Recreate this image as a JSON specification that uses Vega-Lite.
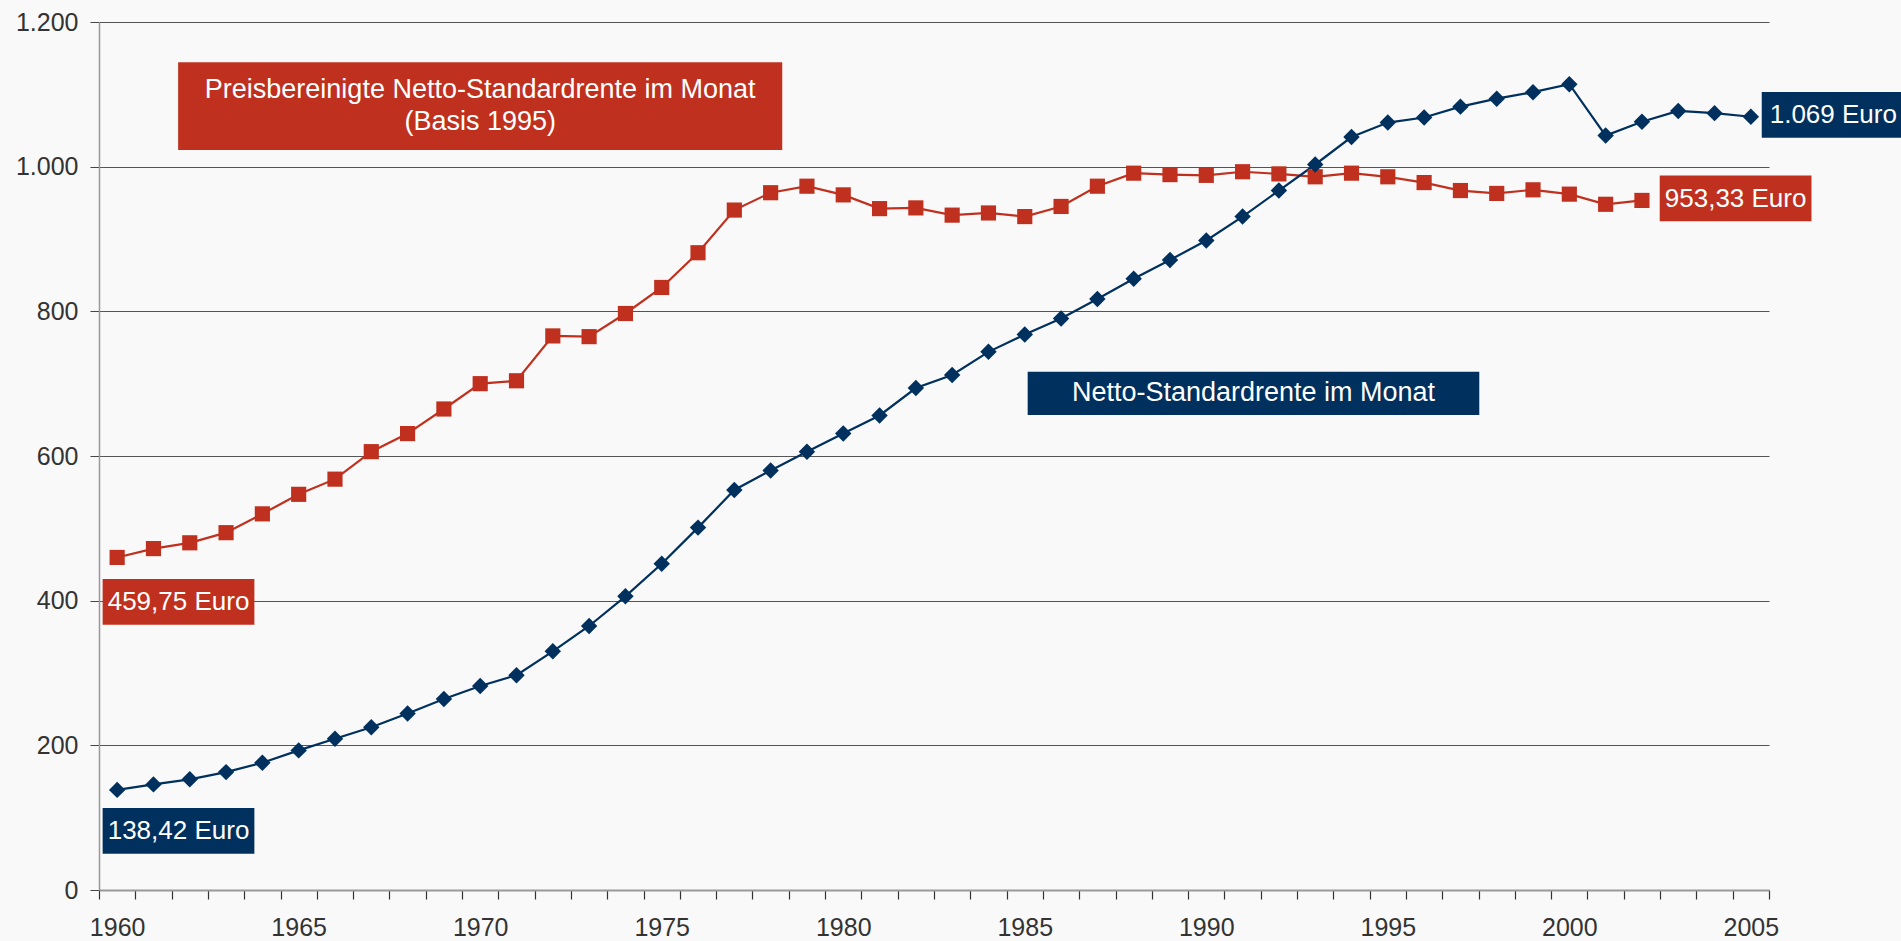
{
  "$schema": "https://vega.github.io/schema/vega-lite/v6.json",
  "width": 1670,
  "height": 868,
  "autosize": "none",
  "padding": {"left": 99, "top": 22, "right": 132, "bottom": 51},
  "background": "#f9f9f9",
  "config": {
    "view": {"stroke": null},
    "font": "Liberation Sans",
    "text": {"font": "Liberation Sans"}
  },
  "datasets": {
    "rente": [
      {"year": 1960, "series": "Preisbereinigt", "value": 459.75},
      {"year": 1961, "series": "Preisbereinigt", "value": 472},
      {"year": 1962, "series": "Preisbereinigt", "value": 480},
      {"year": 1963, "series": "Preisbereinigt", "value": 494},
      {"year": 1964, "series": "Preisbereinigt", "value": 520},
      {"year": 1965, "series": "Preisbereinigt", "value": 547},
      {"year": 1966, "series": "Preisbereinigt", "value": 568},
      {"year": 1967, "series": "Preisbereinigt", "value": 606},
      {"year": 1968, "series": "Preisbereinigt", "value": 631},
      {"year": 1969, "series": "Preisbereinigt", "value": 665},
      {"year": 1970, "series": "Preisbereinigt", "value": 700},
      {"year": 1971, "series": "Preisbereinigt", "value": 704},
      {"year": 1972, "series": "Preisbereinigt", "value": 766},
      {"year": 1973, "series": "Preisbereinigt", "value": 765},
      {"year": 1974, "series": "Preisbereinigt", "value": 797},
      {"year": 1975, "series": "Preisbereinigt", "value": 833},
      {"year": 1976, "series": "Preisbereinigt", "value": 881},
      {"year": 1977, "series": "Preisbereinigt", "value": 940},
      {"year": 1978, "series": "Preisbereinigt", "value": 964},
      {"year": 1979, "series": "Preisbereinigt", "value": 973},
      {"year": 1980, "series": "Preisbereinigt", "value": 961},
      {"year": 1981, "series": "Preisbereinigt", "value": 942},
      {"year": 1982, "series": "Preisbereinigt", "value": 943},
      {"year": 1983, "series": "Preisbereinigt", "value": 933},
      {"year": 1984, "series": "Preisbereinigt", "value": 936},
      {"year": 1985, "series": "Preisbereinigt", "value": 931},
      {"year": 1986, "series": "Preisbereinigt", "value": 945},
      {"year": 1987, "series": "Preisbereinigt", "value": 973},
      {"year": 1988, "series": "Preisbereinigt", "value": 991},
      {"year": 1989, "series": "Preisbereinigt", "value": 989},
      {"year": 1990, "series": "Preisbereinigt", "value": 988},
      {"year": 1991, "series": "Preisbereinigt", "value": 993},
      {"year": 1992, "series": "Preisbereinigt", "value": 990},
      {"year": 1993, "series": "Preisbereinigt", "value": 986},
      {"year": 1994, "series": "Preisbereinigt", "value": 991},
      {"year": 1995, "series": "Preisbereinigt", "value": 986},
      {"year": 1996, "series": "Preisbereinigt", "value": 978},
      {"year": 1997, "series": "Preisbereinigt", "value": 967},
      {"year": 1998, "series": "Preisbereinigt", "value": 963},
      {"year": 1999, "series": "Preisbereinigt", "value": 968},
      {"year": 2000, "series": "Preisbereinigt", "value": 962},
      {"year": 2001, "series": "Preisbereinigt", "value": 948},
      {"year": 2002, "series": "Preisbereinigt", "value": 953.33},
      {"year": 1960, "series": "Netto", "value": 138.42},
      {"year": 1961, "series": "Netto", "value": 146},
      {"year": 1962, "series": "Netto", "value": 153},
      {"year": 1963, "series": "Netto", "value": 163},
      {"year": 1964, "series": "Netto", "value": 176},
      {"year": 1965, "series": "Netto", "value": 193},
      {"year": 1966, "series": "Netto", "value": 209},
      {"year": 1967, "series": "Netto", "value": 225},
      {"year": 1968, "series": "Netto", "value": 244},
      {"year": 1969, "series": "Netto", "value": 264},
      {"year": 1970, "series": "Netto", "value": 282},
      {"year": 1971, "series": "Netto", "value": 297},
      {"year": 1972, "series": "Netto", "value": 330},
      {"year": 1973, "series": "Netto", "value": 365},
      {"year": 1974, "series": "Netto", "value": 406},
      {"year": 1975, "series": "Netto", "value": 451},
      {"year": 1976, "series": "Netto", "value": 501},
      {"year": 1977, "series": "Netto", "value": 553},
      {"year": 1978, "series": "Netto", "value": 580},
      {"year": 1979, "series": "Netto", "value": 606},
      {"year": 1980, "series": "Netto", "value": 631},
      {"year": 1981, "series": "Netto", "value": 656},
      {"year": 1982, "series": "Netto", "value": 694},
      {"year": 1983, "series": "Netto", "value": 712},
      {"year": 1984, "series": "Netto", "value": 744},
      {"year": 1985, "series": "Netto", "value": 768},
      {"year": 1986, "series": "Netto", "value": 790},
      {"year": 1987, "series": "Netto", "value": 817},
      {"year": 1988, "series": "Netto", "value": 845},
      {"year": 1989, "series": "Netto", "value": 871},
      {"year": 1990, "series": "Netto", "value": 898},
      {"year": 1991, "series": "Netto", "value": 931},
      {"year": 1992, "series": "Netto", "value": 967},
      {"year": 1993, "series": "Netto", "value": 1003},
      {"year": 1994, "series": "Netto", "value": 1041},
      {"year": 1995, "series": "Netto", "value": 1061},
      {"year": 1996, "series": "Netto", "value": 1068},
      {"year": 1997, "series": "Netto", "value": 1083},
      {"year": 1998, "series": "Netto", "value": 1094},
      {"year": 1999, "series": "Netto", "value": 1103},
      {"year": 2000, "series": "Netto", "value": 1114},
      {"year": 2001, "series": "Netto", "value": 1043},
      {"year": 2002, "series": "Netto", "value": 1062},
      {"year": 2003, "series": "Netto", "value": 1077},
      {"year": 2004, "series": "Netto", "value": 1074},
      {"year": 2005, "series": "Netto", "value": 1069}
    ]
  },
  "layer": [
    {
      "data": {"name": "rente"},
      "mark": {"type": "line", "strokeWidth": 2.2},
      "encoding": {
        "x": {
          "field": "year", "type": "quantitative",
          "scale": {"domain": [1959.5, 2005.5], "nice": false, "zero": false},
          "axis": {
            "title": null,
            "grid": false,
            "tickCount": 200,
            "values": [1959.5,1960.5,1961.5,1962.5,1963.5,1964.5,1965.5,1966.5,1967.5,1968.5,1969.5,1970.5,1971.5,1972.5,1973.5,1974.5,1975.5,1976.5,1977.5,1978.5,1979.5,1980.5,1981.5,1982.5,1983.5,1984.5,1985.5,1986.5,1987.5,1988.5,1989.5,1990.5,1991.5,1992.5,1993.5,1994.5,1995.5,1996.5,1997.5,1998.5,1999.5,2000.5,2001.5,2002.5,2003.5,2004.5,2005.5],
            "labelExpr": "((datum.value + 0.5) % 5 === 0 && datum.value < 2005) ? ('' + (datum.value + 0.5)) : ''",
            "labelOverlap": false,
            "labelFlush": false,
            "labelOffset": 18.15,
            "labelAlign": "center",
            "labelFontSize": 25,
            "labelColor": "#333333",
            "labelPadding": 16,
            "tickSize": 9,
            "tickColor": "#333333",
            "tickWidth": 1.2,
            "domainColor": "#999999",
            "domainWidth": 2
          }
        },
        "y": {
          "field": "value", "type": "quantitative",
          "scale": {"domain": [0, 1200], "nice": false},
          "axis": {
            "title": null,
            "values": [0, 200, 400, 600, 800, 1000, 1200],
            "labelExpr": "replace(format(datum.value, ','), ',', '.')",
            "grid": true,
            "gridColor": "#555555",
            "gridWidth": 1.2,
            "labelFontSize": 25,
            "labelColor": "#333333",
            "labelPadding": 12,
            "tickSize": 9,
            "tickColor": "#444444",
            "domainColor": "#999999",
            "domainWidth": 1.5
          }
        },
        "color": {
          "field": "series", "type": "nominal",
          "scale": {"domain": ["Preisbereinigt", "Netto"], "range": ["#C0301E", "#00305E"]},
          "legend": null
        },
        "detail": {"field": "series"}
      }
    },
    {
      "data": {"name": "rente"},
      "mark": {"type": "point", "filled": true, "opacity": 1},
      "encoding": {
        "x": {"field": "year", "type": "quantitative"},
        "y": {"field": "value", "type": "quantitative"},
        "color": {"field": "series", "type": "nominal", "legend": null},
        "shape": {
          "field": "series", "type": "nominal",
          "scale": {"domain": ["Preisbereinigt", "Netto"], "range": ["square", "diamond"]},
          "legend": null
        },
        "size": {
          "field": "series", "type": "nominal",
          "scale": {"domain": ["Preisbereinigt", "Netto"], "range": [230, 270]},
          "legend": null
        }
      }
    },
    {
      "data": {"values": [{}]},
      "mark": {"type": "rect", "color": "#C0301E"},
      "encoding": {
        "x": {"datum": 1961.68, "type": "quantitative"},
        "x2": {"datum": 1978.32},
        "y": {"datum": 1144.3, "type": "quantitative"},
        "y2": {"datum": 1023.0}
      }
    },
    {
      "data": {"values": [{}]},
      "mark": {"type": "text", "color": "#ffffff", "fontSize": 27, "align": "center", "baseline": "middle", "lineHeight": 32,
               "text": ["Preisbereinigte Netto-Standardrente im Monat", "(Basis 1995)"]},
      "encoding": {
        "x": {"datum": 1970.0, "type": "quantitative"},
        "y": {"datum": 1106.5, "type": "quantitative"}
      }
    },
    {
      "data": {"values": [{}]},
      "mark": {"type": "rect", "color": "#C0301E"},
      "encoding": {
        "x": {"datum": 1959.6, "type": "quantitative"},
        "x2": {"datum": 1963.78},
        "y": {"datum": 430.0, "type": "quantitative"},
        "y2": {"datum": 366.8}
      }
    },
    {
      "data": {"values": [{}]},
      "mark": {"type": "text", "color": "#ffffff", "fontSize": 26, "align": "center", "baseline": "middle", "text": "459,75 Euro"},
      "encoding": {
        "x": {"datum": 1961.69, "type": "quantitative"},
        "y": {"datum": 398.2, "type": "quantitative"}
      }
    },
    {
      "data": {"values": [{}]},
      "mark": {"type": "rect", "color": "#00305E"},
      "encoding": {
        "x": {"datum": 1959.6, "type": "quantitative"},
        "x2": {"datum": 1963.78},
        "y": {"datum": 113.4, "type": "quantitative"},
        "y2": {"datum": 50.2}
      }
    },
    {
      "data": {"values": [{}]},
      "mark": {"type": "text", "color": "#ffffff", "fontSize": 26, "align": "center", "baseline": "middle", "text": "138,42 Euro"},
      "encoding": {
        "x": {"datum": 1961.69, "type": "quantitative"},
        "y": {"datum": 81.6, "type": "quantitative"}
      }
    },
    {
      "data": {"values": [{}]},
      "mark": {"type": "rect", "color": "#00305E"},
      "encoding": {
        "x": {"datum": 1985.08, "type": "quantitative"},
        "x2": {"datum": 1997.52},
        "y": {"datum": 716.6, "type": "quantitative"},
        "y2": {"datum": 656.7}
      }
    },
    {
      "data": {"values": [{}]},
      "mark": {"type": "text", "color": "#ffffff", "fontSize": 27, "align": "center", "baseline": "middle", "text": "Netto-Standardrente im Monat"},
      "encoding": {
        "x": {"datum": 1991.3, "type": "quantitative"},
        "y": {"datum": 686.7, "type": "quantitative"}
      }
    },
    {
      "data": {"values": [{}]},
      "mark": {"type": "rect", "color": "#00305E"},
      "encoding": {
        "x": {"datum": 2005.3, "type": "quantitative"},
        "x2": {"datum": 2009.2},
        "y": {"datum": 1103.2, "type": "quantitative"},
        "y2": {"datum": 1040.0}
      }
    },
    {
      "data": {"values": [{}]},
      "mark": {"type": "text", "color": "#ffffff", "fontSize": 26, "align": "left", "baseline": "middle", "text": "1.069 Euro"},
      "encoding": {
        "x": {"datum": 2005.52, "type": "quantitative"},
        "y": {"datum": 1071.6, "type": "quantitative"}
      }
    },
    {
      "data": {"values": [{}]},
      "mark": {"type": "rect", "color": "#C0301E"},
      "encoding": {
        "x": {"datum": 2002.49, "type": "quantitative"},
        "x2": {"datum": 2006.67},
        "y": {"datum": 987.8, "type": "quantitative"},
        "y2": {"datum": 924.6}
      }
    },
    {
      "data": {"values": [{}]},
      "mark": {"type": "text", "color": "#ffffff", "fontSize": 26, "align": "center", "baseline": "middle", "text": "953,33 Euro"},
      "encoding": {
        "x": {"datum": 2004.58, "type": "quantitative"},
        "y": {"datum": 955.6, "type": "quantitative"}
      }
    }
  ]
}
